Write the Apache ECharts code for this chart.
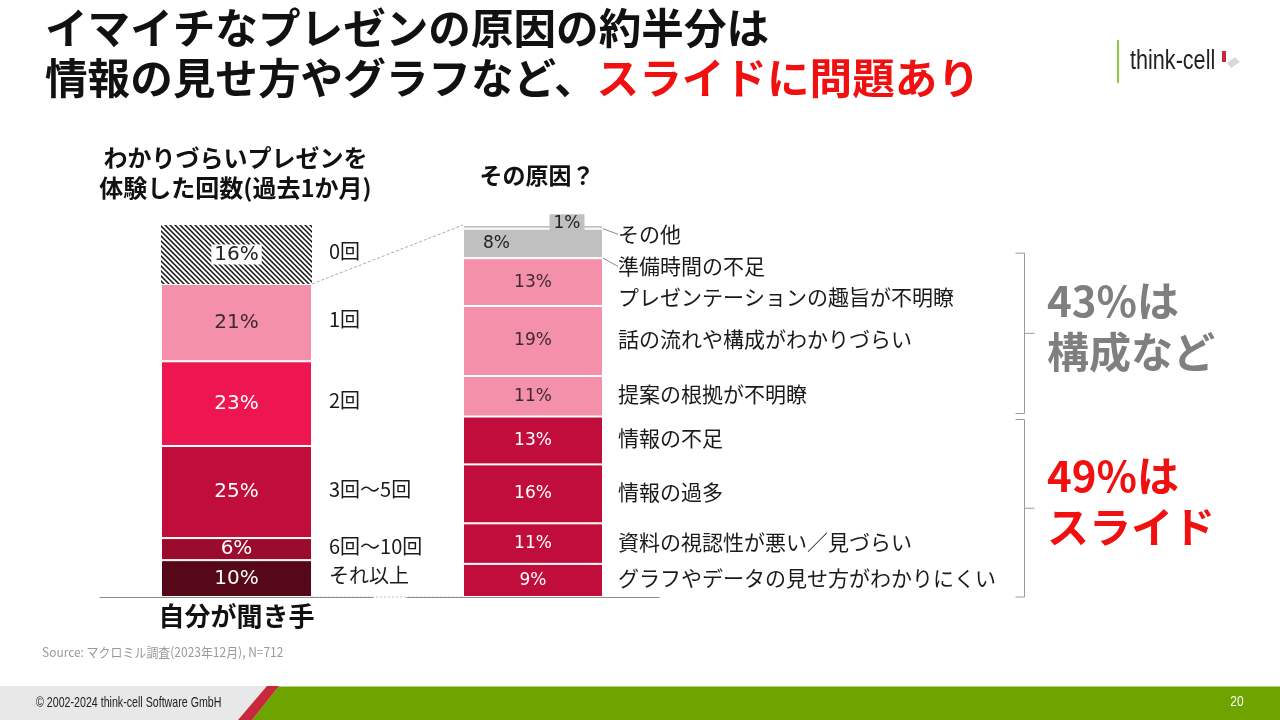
<!DOCTYPE html>
<html><head><meta charset="utf-8">
<script src="https://cdn.jsdelivr.net/npm/echarts@6/dist/echarts.min.js"></script>
<style>html,body{margin:0;padding:0;background:#fff}#c{width:1280px;height:720px}</style>
</head><body><div id="c"></div>
<script>
// ---------- data ----------
const leftCats = ['それ以上', '6回～10回', '3回～5回', '2回', '1回', '0回'];
const leftVals = [10, 6, 25, 23, 21, 16];
const leftAxisName = '自分が聞き手';
const rightCats = ['グラフやデータの見せ方がわかりにくい', '資料の視認性が悪い／見づらい', '情報の過多', '情報の不足',
  '提案の根拠が不明瞭', '話の流れや構成がわかりづらい', 'プレゼンテーションの趣旨が不明瞭', '準備時間の不足', 'その他'];
const rightVals = [9, 11, 16, 13, 11, 19, 13, 8, 1];
const groupCounts = [4, 3];            // bottom 4 = slides, next 3 = structure
const groupTexts = [['{p}%は', 'スライド'], ['{p}%は', '構成など']];
const titleLine1 = 'イマイチなプレゼンの原因の約半分は';
const titleLine2a = '情報の見せ方やグラフなど、';
const titleLine2b = 'スライドに問題あり';
const leftHeader = ['わかりづらいプレゼンを', '体験した回数(過去1か月)'];
const rightHeader = 'その原因？';
const sourceText = 'Source: マクロミル調査(2023年12月), N=712';
const copyrightText = '© 2002-2024 think-cell Software GmbH';
const pageNo = '20';

// ---------- styles ----------
const FJ = '"Noto Sans CJK JP", sans-serif';
const FN = '"DejaVu Sans", Verdana, sans-serif';
const FA = '"Liberation Sans", Arial, sans-serif';
const RED = '#C00D3B', PINK = '#F590AB', GRAY = '#C0C0C0';

const hatch = (function () {
  const c = document.createElement('canvas'); c.width = 5; c.height = 5;
  const g = c.getContext('2d');
  g.fillStyle = '#fff'; g.fillRect(0, 0, 5, 5);
  g.strokeStyle = '#111'; g.lineWidth = 1.5;
  g.beginPath();
  g.moveTo(-1, -1); g.lineTo(6, 6);
  g.moveTo(-1, 4); g.lineTo(1, 6);
  g.moveTo(4, -1); g.lineTo(6, 1);
  g.stroke();
  return c;
})();
const leftColors = ['#560718', '#9A0B2D', RED, '#EE1650', PINK, { image: hatch, repeat: 'repeat' }];
const leftLabelColors = ['#fff', '#fff', '#fff', '#fff', '#3d2a30', '#222'];
const rightColors = [RED, RED, RED, RED, PINK, PINK, PINK, GRAY, GRAY];
const rightLabelColors = ['#fff', '#fff', '#fff', '#fff', '#3d2a30', '#3d2a30', '#3d2a30', '#222', '#222'];

const sumL = leftVals.reduce((a, b) => a + b, 0);
const sumR = rightVals.reduce((a, b) => a + b, 0);
const yMax = Math.max(sumL, sumR);
const LW = 151, RW = 140;

const chart = echarts.init(document.getElementById('c'));
const series = [];
leftVals.forEach((v, i) => {
  const lab = { show: true, position: 'inside', formatter: v + '%', color: leftLabelColors[i], fontSize: 20, fontFamily: FN };
  if (i === leftVals.length - 1) { lab.backgroundColor = '#fff'; lab.padding = [0, 3]; }
  series.push({ type: 'bar', name: leftCats[i], xAxisIndex: 0, yAxisIndex: 0, stack: 'L', barWidth: LW, barGap: '-100%',
    data: [v], itemStyle: { color: leftColors[i], borderColor: '#fff', borderWidth: i === leftVals.length - 1 ? 0 : 1 }, label: lab, z: 2 });
});
leftVals.forEach((v, i) => {
  series.push({ type: 'bar', name: 'l_' + leftCats[i], xAxisIndex: 0, yAxisIndex: 0, stack: 'L2', barWidth: LW, barGap: '-100%',
    data: [v], silent: true, itemStyle: { color: 'rgba(0,0,0,0)' },
    label: { show: true, position: 'right', distance: 17, offset: [0, -3], formatter: leftCats[i], color: '#1a1a1a', fontSize: 20, fontFamily: FJ }, z: 3 });
});
rightVals.forEach((v, i) => {
  const lab = { show: true, position: 'inside', formatter: v + '%', color: rightLabelColors[i], fontSize: 17, fontFamily: FN };
  if (i === rightVals.length - 1) { lab.backgroundColor = GRAY; lab.padding = [1, 4]; lab.offset = [34, -3]; }
  if (i === rightVals.length - 2) { lab.position = 'insideLeft'; lab.distance = 20; }
  series.push({ type: 'bar', name: rightCats[i], xAxisIndex: 1, yAxisIndex: 1, stack: 'R', barWidth: RW, barGap: '-100%',
    data: [v], itemStyle: { color: rightColors[i], borderColor: '#fff', borderWidth: 1 }, label: lab, z: 2 });
});
const rightDy = { 6: 15, 7: 23, 8: 7.5 };
rightVals.forEach((v, i) => {
  const s = { type: 'bar', name: 'l_' + rightCats[i], xAxisIndex: 1, yAxisIndex: 1, stack: 'R2', barWidth: RW, barGap: '-100%',
    data: [v], silent: true, itemStyle: { color: 'rgba(0,0,0,0)' },
    label: { show: true, position: 'right', distance: 15, offset: [0, -2], formatter: rightCats[i], color: '#1a1a1a', fontSize: 21, fontFamily: FJ }, z: 3 };
  if (rightDy[i] !== undefined) {
    s.label.offset = [0, 0];
    s.labelLayout = { dy: rightDy[i] };
    if (i >= 7) s.labelLine = { show: true, lineStyle: { color: '#888', width: 1 } };
  }
  series.push(s);
});

const axisLineStyle = { lineStyle: { color: '#8c8c8c', width: 1.2 } };
chart.setOption({
  animation: false,
  backgroundColor: '#fff',
  title: [
    { left: 45, top: 4, padding: 0, text: '{a|' + titleLine1 + '}',
      textStyle: { rich: { a: { fontSize: 42.6, fontWeight: 'bold', color: '#111', fontFamily: FJ, lineHeight: 48 } } } },
    { left: 45, top: 54, padding: 0, text: '{a|' + titleLine2a + '}{b|' + titleLine2b + '}',
      textStyle: { rich: {
        a: { fontSize: 42.6, fontWeight: 'bold', color: '#111', fontFamily: FJ, lineHeight: 48 },
        b: { fontSize: 42.6, fontWeight: 'bold', color: '#F01010', fontFamily: FJ, lineHeight: 48 } } } }
  ],
  grid: [
    { left: 100, width: 273, top: 225, bottom: 123 },
    { left: 407, width: 252, top: 225, bottom: 123 }
  ],
  xAxis: [
    { gridIndex: 0, type: 'category', data: [leftAxisName], axisLine: axisLineStyle, axisTick: { show: false },
      axisLabel: { fontSize: 26, fontWeight: 'bold', color: '#111', fontFamily: FJ, margin: 6 } },
    { gridIndex: 1, type: 'category', data: ['R'], axisLine: axisLineStyle, axisTick: { show: false }, axisLabel: { show: false } }
  ],
  yAxis: [
    { gridIndex: 0, type: 'value', min: 0, max: yMax, show: false, splitLine: { show: false } },
    { gridIndex: 1, type: 'value', min: 0, max: yMax, show: false, splitLine: { show: false } }
  ],
  series: series
});

// ---------- annotations derived from the scales ----------
const P0 = (v) => chart.convertToPixel({ gridIndex: 0 }, [0, v]);
const P1 = (v) => chart.convertToPixel({ gridIndex: 1 }, [0, v]);
const g = [];
function txt(x, y, text, font, fill, align, sx) {
  g.push({ type: 'text', x: x, y: y, z: 10, silent: true, scaleX: sx || 1,
    style: { text: text, font: font, fill: fill, align: align || 'left', verticalAlign: 'middle', textAlign: align || 'left', textVerticalAlign: 'middle' } });
}
function line(x1, y1, x2, y2, color, dash, w, z) {
  g.push({ type: 'line', z: z === undefined ? 5 : z, silent: true, shape: { x1: x1, y1: y1, x2: x2, y2: y2 },
    style: { stroke: color, lineWidth: w || 1, lineDash: dash || null } });
}
// headers
const lc = P0(0)[0], rc = P1(0)[0];
txt(lc - 1, 158, leftHeader[0], 'bold 24px ' + FJ, '#111', 'center');
txt(lc - 1, 188, leftHeader[1], 'bold 24px ' + FJ, '#111', 'center');
txt(rc + 4, 175, rightHeader, 'bold 23px ' + FJ, '#111', 'center');

// connectors
const topOfRest = sumL - leftVals[leftVals.length - 1];
const a = P0(topOfRest), b = P1(sumR);
line(a[0] + LW / 2, a[1], b[0] - RW / 2, b[1], '#aaaaaa', [3, 2], 1, 1);
const a0 = P0(0), b0 = P1(0);
line(a0[0] + LW / 2, a0[1], b0[0] - RW / 2, b0[1], '#c8c8c8', [2, 2], 1, 0);

// brackets
let start = 0;
const bx = 1024.5;
groupCounts.forEach((n, gi) => {
  const part = rightVals.slice(start, start + n).reduce((x, y) => x + y, 0);
  const yBot = P1(start === 0 ? 0 : rightVals.slice(0, start).reduce((x, y) => x + y, 0))[1];
  const yTop = P1(rightVals.slice(0, start + n).reduce((x, y) => x + y, 0))[1];
  const y1 = gi === 0 ? yBot : yBot - 3;
  const y2 = gi === 0 ? yTop + 3 : yTop - 5;
  line(bx, y1, bx, y2, '#9a9a9a');
  line(bx - 9, y1, bx, y1, '#9a9a9a');
  line(bx - 9, y2, bx, y2, '#9a9a9a');
  const ym = (y1 + y2) / 2;
  line(bx, ym, bx + 10, ym, '#9a9a9a');
  const col = gi === 0 ? '#F01010' : '#7f7f7f';
  txt(1047, ym - 32, groupTexts[gi][0].replace('{p}', part), 'bold 42px ' + FJ, col);
  txt(1047, ym + 19, groupTexts[gi][1], 'bold 42px ' + FJ, col);
  start += n;
});

// source
txt(42, 652, sourceText, '13px ' + FJ, '#9a9a9a', 'left', 0.92);

// logo
line(1118, 40, 1118, 83, '#8DC63F', null, 2);
txt(1130, 62, 'think-cell', '27px ' + FA, '#222', 'left', 0.8);
g.push({ type: 'rect', silent: true, shape: { x: 1222, y: 51, width: 4, height: 11 }, style: { fill: '#C8283C' } });
g.push({ type: 'polygon', silent: true, shape: { points: [[1227, 63], [1235, 57], [1240, 62], [1231, 68]] }, style: { fill: '#d8d8d8' } });

// footer
g.push({ type: 'rect', silent: true, z: 1, shape: { x: 0, y: 686, width: 1280, height: 34 }, style: { fill: '#E8E8E8' } });
g.push({ type: 'polygon', silent: true, z: 2, shape: { points: [[279, 686], [1280, 686], [1280, 720], [252, 720]] }, style: { fill: '#6EA400' } });
g.push({ type: 'polygon', silent: true, z: 2, shape: { points: [[267, 686], [279, 686], [252, 720], [238, 720]] }, style: { fill: '#C8283C' } });
line(279, 686.5, 1280, 686.5, '#b6d08a', null, 1, 3);
txt(36, 703, copyrightText, '15px ' + FA, '#222', 'left', 0.71);
txt(1237, 702, pageNo, '15px ' + FA, '#fff', 'center', 0.8);

chart.setOption({ graphic: g });
</script>
</body></html>
